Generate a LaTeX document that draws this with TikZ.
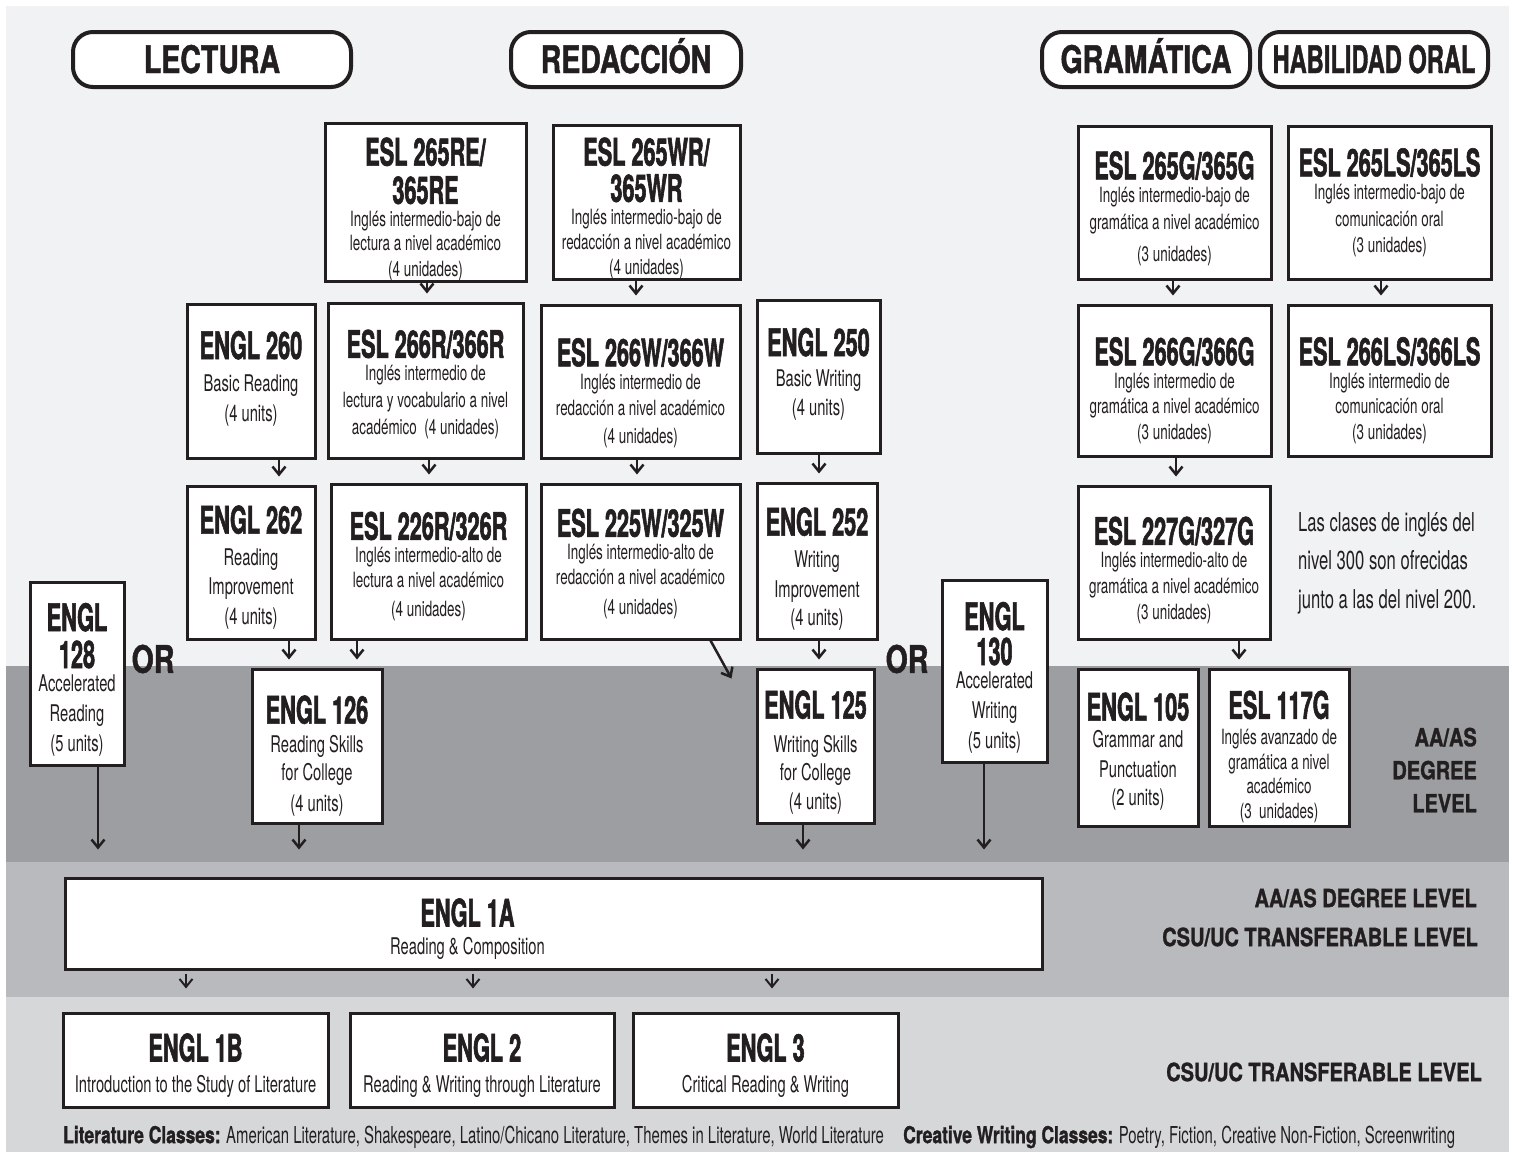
\documentclass[tikz,border=0pt]{standalone}
\usepackage{fontspec}
\usepackage{graphicx}
\setmainfont{TeX Gyre Heros}[FakeStretch=0.64]
\newfontfamily\crsfam{TeX Gyre Heros}[FakeStretch=0.57,FakeBold=1.5]
\newfontfamily\hdrfam{TeX Gyre Heros}[FakeStretch=0.75,FakeBold=1.2]
\newfontfamily\lvlfam{TeX Gyre Heros}[FakeStretch=0.8,FakeBold=1.2]
\usetikzlibrary{arrows.meta}

\definecolor{ink}{HTML}{231F20}
\definecolor{bgtop}{HTML}{F1F2F3}
\definecolor{bgdeg}{HTML}{9D9EA1}
\definecolor{bgboth}{HTML}{B9BABD}
\definecolor{bgcsu}{HTML}{D6D7D9}

\newcommand\crsttl{\crsfam\bfseries\fontsize{38}{40}\selectfont}
\newcommand\hdrtxt{\hdrfam\bfseries\fontsize{38}{40}\selectfont}
\newcommand\lvltxt{\lvlfam\bfseries\fontsize{25}{33}\selectfont}
\newcommand\toppad[1]{\rule{0pt}{#1pt}}
\newcommand\lowpad[1]{\rule[-#1pt]{0pt}{0pt}}
\newcommand\rgtpad[1]{\rule{#1pt}{0pt}}

\tikzset{
crsbox/.style={draw=ink, line width=3pt, fill=white, text=ink, align=center, inner sep=0pt},
esl/.style={crsbox, font=\fontsize{21}{25}\selectfont},
engl/.style={crsbox, font=\fontsize{23}{27}\selectfont},
pill/.style={draw=ink, line width=4pt, fill=white, text=ink, rounded corners=20pt, minimum height=55pt, inner sep=0pt, text height=27pt, text depth=0pt, font=\hdrtxt},
lvl/.style={text=ink, align=right, anchor=east, inner sep=0pt, font=\lvltxt},
arr/.style={draw=ink, line width=2.5pt, -{Straight Barb[length=8pt,width=13pt]}, shorten >=8pt}
}

\begin{document}
\begin{tikzpicture}[x=1pt, y=-1pt]
\useasboundingbox (0,0) rectangle (1513,1152);
% level bands
\fill[bgtop] (6,6) rectangle (1509,666);
\fill[bgdeg] (6,666) rectangle (1509,862);
\fill[bgboth] (6,862) rectangle (1509,997);
\fill[bgcsu] (6,997) rectangle (1509,1152);

% headings
\node[pill, minimum width=278pt] (lect) at (212,59.5) {LECTURA};
\node[pill, minimum width=230pt] (reda) at (626,59.5) {REDACCIÓN};
\node[pill, minimum width=208pt] (gram) at (1146,59.5) {GRAMÁTICA};
\node[pill, minimum width=228pt] (oral) at (1374,59.5) {\scalebox{0.83}[1]{HABILIDAD ORAL}};

% first ESL level
\node[esl, minimum width=201pt, minimum height=153pt] (r265re) at (425.5,202.5) {\toppad{42}{\crsttl ESL 265RE/}\\[9pt]{\crsttl 365RE}\\[-2pt]Inglés intermedio-bajo de\\[-1pt]lectura a nivel académico\\[1pt](4 unidades)};
\node[esl, minimum width=187pt, minimum height=153pt] (r265wr) at (646.5,202.5) {\toppad{40}{\crsttl ESL 265WR/}\\[7pt]{\crsttl 365WR}\\[-2pt]Inglés intermedio-bajo de\\redacción a nivel académico\\(4 unidades)};
\node[esl, minimum width=193pt, minimum height=153pt] (r265g) at (1174.5,202.5) {\toppad{40}{\crsttl ESL 265G/365G}\\[-2pt]Inglés intermedio-bajo de\\[2pt]gramática a nivel académico\\[7pt](3 unidades)};
\node[esl, minimum width=203pt, minimum height=153pt] (r265ls) at (1389.5,202.5) {{\crsttl ESL 265LS/365LS}\\[-2pt]Inglés intermedio-bajo de\\[2pt]comunicación oral\\[1pt](3 unidades)};

% second level
\node[engl, minimum width=128pt, minimum height=154pt] (e260) at (251,381) {{\crsttl ENGL 260}\\[5pt]Basic Reading\\[3pt](4 units)\lowpad{10}};
\node[esl, minimum width=195pt, minimum height=155pt] (esl266r) at (425.5,380.5) {\toppad{36}{\crsttl ESL 266R/366R}\\[-2pt]Inglés intermedio de\\[2pt]lectura y vocabulario a nivel\\[2pt]académico\ \ (4 unidades)};
\node[esl, minimum width=199pt, minimum height=153pt] (esl266w) at (640.5,381.5) {\toppad{51}{\crsttl ESL 266W/366W}\\[-2pt]Inglés intermedio de\\[1pt]redacción a nivel académico\\[3pt](4 unidades)};
\node[engl, minimum width=123pt, minimum height=153pt] (e250) at (818.5,376.5) {{\crsttl ENGL 250}\\[3pt]Basic Writing\\[2pt](4 units)\lowpad{10}};
\node[esl, minimum width=193pt, minimum height=151pt] (esl266g) at (1174.5,380.5) {\toppad{48}{\crsttl ESL 266G/366G}\\[-2pt]Inglés intermedio de\\gramática a nivel académico\\[1pt](3 unidades)};
\node[esl, minimum width=203pt, minimum height=151pt] (esl266ls) at (1389.5,380.5) {\toppad{48}{\crsttl ESL 266LS/366LS}\\[-2pt]Inglés intermedio de\\comunicación oral\\[1pt](3 unidades)};

% third level
\node[engl, minimum width=128pt, minimum height=153pt] (e262) at (251,562.5) {\toppad{38}{\crsttl ENGL 262}\\[5pt]Reading\\[2pt]Improvement\\[3pt](4 units)};
\node[esl, minimum width=195pt, minimum height=155pt] (esl226r) at (428.5,561.5) {\toppad{38}{\crsttl ESL 226R/326R}\\[-2pt]Inglés intermedio-alto de\\lectura a nivel académico\\[4pt](4 unidades)};
\node[esl, minimum width=199pt, minimum height=155pt] (esl225w) at (640.5,561.5) {\toppad{33}{\crsttl ESL 225W/325W}\\[-2pt]Inglés intermedio-alto de\\redacción a nivel académico\\[5pt](4 unidades)};
\node[engl, minimum width=120pt, minimum height=156pt] (e252) at (817,561) {\toppad{44}{\crsttl ENGL 252}\\[5pt]Writing\\[3pt]Improvement\\[1pt](4 units)};
\node[esl, minimum width=192pt, minimum height=153pt] (esl227g) at (1174,562.5) {\toppad{44}{\crsttl ESL 227G/327G}\\[-2pt]Inglés intermedio-alto de\\[1pt]gramática a nivel académico\\[1pt](3 unidades)};
\node[text=ink, align=left, anchor=west, inner sep=0pt, font=\fontsize{26}{38.5}\selectfont] (note) at (1298,563) {Las clases de inglés del\\nivel 300 son ofrecidas\\junto a las del nivel 200.};

% accelerated
\node[engl, minimum width=94pt, minimum height=183pt] (e128) at (77,673.5) {\toppad{40}{\crsttl ENGL}\\[8pt]{\crsttl 128}\\[-4pt]Accelerated\\[3pt]Reading\\[3pt](5 units)};
\node[engl, minimum width=105pt, minimum height=182pt] (e130) at (994.5,671) {\toppad{41}{\crsttl ENGL}\\[6pt]{\crsttl 130}\\[-4pt]Accelerated\\[3pt]Writing\\[3pt](5 units)};
\node[text=ink, inner sep=0pt, font=\hdrtxt] (orA) at (153,659) {OR};
\node[text=ink, inner sep=0pt, font=\hdrtxt] (orB) at (907,659) {OR};

% AA/AS degree level
\node[engl, minimum width=130pt, minimum height=154pt] (e126) at (317,746) {\toppad{48}{\crsttl ENGL 126}\\[2pt]Reading Skills\\[1pt]for College\\[4pt](4 units)};
\node[engl, minimum width=117pt, minimum height=154pt] (e125) at (815.5,746) {\toppad{41}{\crsttl ENGL 125}\\[7pt]Writing Skills\\[1pt]for College\\[2pt](4 units)};
\node[engl, minimum width=120pt, minimum height=157pt] (e105) at (1138,747.5) {\toppad{36}{\crsttl ENGL 105}\\Grammar and\\[3pt]Punctuation\\[1pt](2 units)};
\node[esl, minimum width=140pt, minimum height=157pt] (esl117g) at (1279,747.5) {\toppad{47}{\crsttl ESL 117G}\\[1pt]Inglés avanzado de\\gramática a nivel\\[-1pt]académico\\(3\ \ unidades)};
\node[lvl] (degA) at (1477,770) {AA/AS\\DEGREE\\LEVEL};

% transferable
\node[engl, minimum width=977pt, minimum height=91pt] (e1a) at (553.5,923.5) {\toppad{39}{\crsttl ENGL 1A}\rgtpad{172}\\[1pt]Reading \& Composition\rgtpad{172}};
\node[lvl] (degB) at (1477,898) {AA/AS DEGREE LEVEL};
\node[lvl] (csuA) at (1478,937) {CSU/UC TRANSFERABLE LEVEL};
\node[engl, minimum width=265pt, minimum height=94pt] (e1b) at (195.5,1060) {\toppad{39}{\crsttl ENGL 1B}\\[4pt]Introduction to the Study of Literature};
\node[engl, minimum width=264pt, minimum height=94pt] (e2) at (482,1060) {\toppad{39}{\crsttl ENGL 2}\\[4pt]Reading \& Writing through Literature};
\node[engl, minimum width=265pt, minimum height=94pt] (e3) at (765.5,1060) {\toppad{39}{\crsttl ENGL 3}\\[4pt]Critical Reading \& Writing};
\node[lvl] (csuB) at (1482,1072) {CSU/UC TRANSFERABLE LEVEL};
\node[anchor=west, text=ink, inner sep=0pt, font=\fontsize{23.3}{27}\selectfont] (litcls) at (63,1137) {{\hdrfam\bfseries Literature Classes:} American Literature, Shakespeare, Latino/Chicano Literature, Themes in Literature, World Literature};
\node[anchor=west, text=ink, inner sep=0pt, font=\fontsize{23.3}{27}\selectfont] (crwcls) at (903,1137) {{\hdrfam\bfseries Creative Writing Classes:} Poetry, Fiction, Creative Non-Fiction, Screenwriting};

% arrows
\foreach \a/\b/\x in {r265re/esl266r/427, r265wr/esl266w/636, r265g/esl266g/1173, r265ls/esl266ls/1381, e260/e262/279, esl266r/esl226r/429, esl266w/esl225w/637, e250/e252/819, esl266g/esl227g/1176, e262/e126/289, esl226r/e126/357, e252/e125/819, esl227g/esl117g/1239}
  \draw[arr] (\x,0 |- \a.south) -- (\x,0 |- \b.north);
\draw[arr, shorten >=0pt] ([xshift=70pt]esl225w.south) -- ([shift={(-24,11)}]e125.north west);
\foreach \a/\x in {e128/98, e126/299, e125/803, e130/984}
  \draw[arr, shorten >=27pt] (\x,0 |- \a.south) -- (\x,0 |- e1a.north);
\foreach \b/\x in {e1b/186, e2/473, e3/772}
  \draw[arr, line width=2pt, shorten <=3pt, shorten >=23pt] (\x,0 |- e1a.south) -- (\x,0 |- \b.north);

\end{tikzpicture}
\end{document}
